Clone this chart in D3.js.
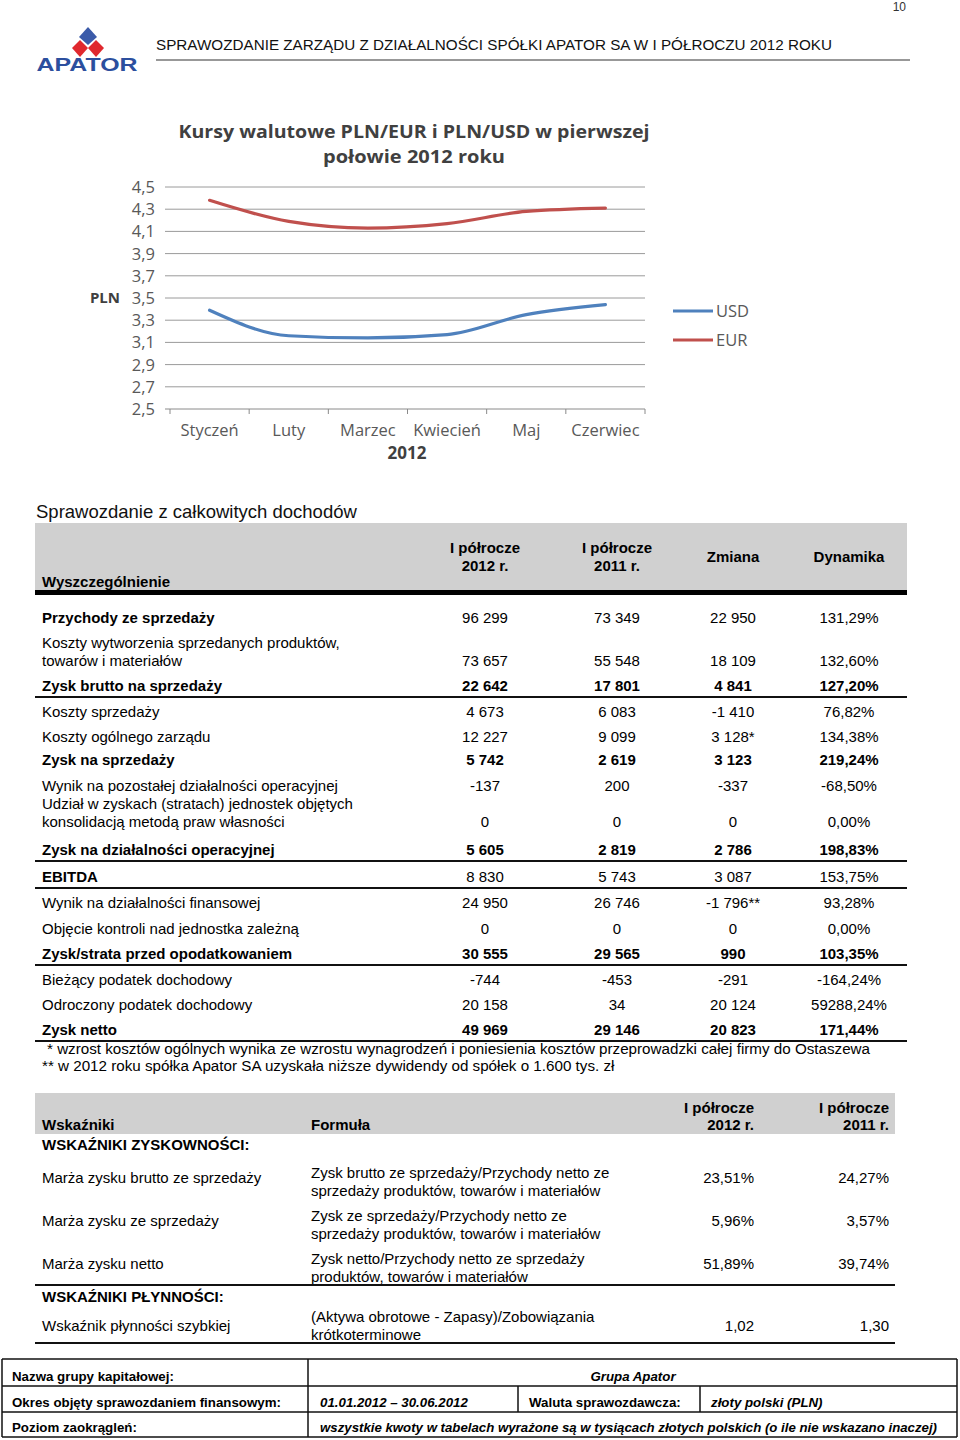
<!DOCTYPE html>
<html><head><meta charset="utf-8">
<script src="https://cdn.jsdelivr.net/npm/d3@7/dist/d3.min.js"></script>
<style>body{margin:0;background:#fff}svg{display:block}</style>
</head><body>
<svg id="page" width="960" height="1440"></svg>
<script>
// ---------- DATA ----------
const months = ["Styczeń","Luty","Marzec","Kwiecień","Maj","Czerwiec"];
const usd = [3.39, 3.16, 3.14, 3.17, 3.35, 3.44];
const eur = [4.38, 4.19, 4.13, 4.17, 4.28, 4.31];
const yTicks = [2.5,2.7,2.9,3.1,3.3,3.5,3.7,3.9,4.1,4.3,4.5];

const t1Labels = [
  ["Przychody ze sprzedaży"],
  ["Koszty wytworzenia sprzedanych produktów,","towarów i materiałów"],
  ["Zysk brutto na sprzedaży"],
  ["Koszty sprzedaży"],
  ["Koszty ogólnego zarządu"],
  ["Zysk na sprzedaży"],
  ["Wynik na pozostałej działalności operacyjnej"],
  ["Udział w zyskach (stratach) jednostek objętych","konsolidacją metodą praw własności"],
  ["Zysk na działalności operacyjnej"],
  ["EBITDA"],
  ["Wynik na działalności  finansowej"],
  ["Objęcie kontroli nad jednostka zależną"],
  ["Zysk/strata przed opodatkowaniem"],
  ["Bieżący podatek dochodowy"],
  ["Odroczony podatek dochodowy"],
  ["Zysk netto"]
];
const t1H2012 = ["96 299","73 657","22 642","4 673","12 227","5 742","-137","0","5 605","8 830","24 950","0","30 555","-744","20 158","49 969"];
const t1H2011 = ["73 349","55 548","17 801","6 083","9 099","2 619","200","0","2 819","5 743","26 746","0","29 565","-453","34","29 146"];
const t1Change = ["22 950","18 109","4 841","-1 410","3 128*","3 123","-337","0","2 786","3 087","-1 796**","0","990","-291","20 124","20 823"];
const t1Dyn = ["131,29%","132,60%","127,20%","76,82%","134,38%","219,24%","-68,50%","0,00%","198,83%","153,75%","93,28%","0,00%","103,35%","-164,24%","59288,24%","171,44%"];
const t1BoldLabel = [1,0,1,0,0,1,0,0,1,1,0,0,1,0,0,1];
const t1BoldValues = [0,0,1,0,0,1,0,0,1,0,0,0,1,0,0,1];
const t1RuleAfter = [0,0,1,0,0,0,0,0,1,1,0,0,1,0,0,1];
const footnotes = ["* wzrost kosztów ogólnych wynika ze wzrostu wynagrodzeń i poniesienia kosztów przeprowadzki całej firmy do Ostaszewa",
                   "** w 2012 roku spółka Apator SA uzyskała niższe dywidendy od spółek o 1.600 tys. zł"];

const t2Groups = ["WSKAŹNIKI ZYSKOWNOŚCI:","WSKAŹNIKI PŁYNNOŚCI:"];
const t2Names = ["Marża zysku brutto ze sprzedaży","Marża zysku ze sprzedaży","Marża zysku netto","Wskaźnik płynności szybkiej"];
const t2Formulas = [
  ["Zysk brutto ze sprzedaży/Przychody netto ze","sprzedaży produktów, towarów i materiałów"],
  ["Zysk ze sprzedaży/Przychody netto ze","sprzedaży produktów, towarów i materiałów"],
  ["Zysk netto/Przychody netto ze sprzedaży","produktów, towarów i materiałów"],
  ["(Aktywa obrotowe - Zapasy)/Zobowiązania","krótkoterminowe"]
];
const t2V2012 = ["23,51%","5,96%","51,89%","1,02"];
const t2V2011 = ["24,27%","3,57%","39,74%","1,30"];

// ---------- LAYOUT ----------
const svg = d3.select("#page");
const SANS = "'Liberation Sans', Arial, sans-serif";
const CH = "'Open Sans', sans-serif";

// header
svg.append("text").attr("x",906).attr("y",11).attr("text-anchor","end").attr("font-family",SANS).attr("font-size",12).attr("fill","#333").text("10");
const logo = svg.append("g");
logo.append("polygon").attr("points","88,27 97,37 88,45 79,37").attr("fill","#3b5ba9");
logo.append("polygon").attr("points","80,40 88,48 80,57 72,48").attr("fill","#e0282e");
logo.append("polygon").attr("points","96,40 104,48 96,57 88,48").attr("fill","#e0282e");
logo.append("text").attr("x",87).attr("y",71).attr("text-anchor","middle").attr("font-family",SANS).attr("font-weight","bold").attr("font-size",19).attr("fill","#2c4f9e").attr("textLength",101).attr("lengthAdjust","spacingAndGlyphs").text("APATOR");
svg.append("text").attr("x",156).attr("y",50).attr("font-family",SANS).attr("font-size",15).attr("fill","#111").attr("textLength",676).attr("lengthAdjust","spacingAndGlyphs").text("SPRAWOZDANIE ZARZĄDU Z DZIAŁALNOŚCI SPÓŁKI APATOR SA W I PÓŁROCZU 2012 ROKU");
svg.append("line").attr("x1",156).attr("x2",910).attr("y1",60).attr("y2",60).attr("stroke","#333").attr("stroke-width",1.2);

// ---------- LINE CHART ----------
const x = d3.scaleBand().domain(months).range([170,645]).padding(0);
const y = d3.scaleLinear().domain([2.5,4.5]).range([409,187]);
const chart = svg.append("g");
chart.append("text").attr("x",414).attr("y",138).attr("text-anchor","middle").attr("font-family",CH).attr("font-weight","bold").attr("font-size",17.5).attr("fill","#404040").attr("textLength",471).attr("lengthAdjust","spacingAndGlyphs").text("Kursy walutowe PLN/EUR i PLN/USD w pierwszej");
chart.append("text").attr("x",414).attr("y",163).attr("text-anchor","middle").attr("font-family",CH).attr("font-weight","bold").attr("font-size",17.5).attr("fill","#404040").attr("textLength",182).attr("lengthAdjust","spacingAndGlyphs").text("połowie 2012 roku");

chart.selectAll("line.grid").data(yTicks).join("line").attr("class","grid")
  .attr("x1",165).attr("x2",645).attr("y1",d=>y(d)).attr("y2",d=>y(d))
  .attr("stroke",d=>d===2.5?"#8a8a8a":"#9a9a9a").attr("stroke-width",1);
chart.selectAll("text.yt").data(yTicks).join("text").attr("class","yt")
  .attr("x",155).attr("y",d=>y(d)+6).attr("text-anchor","end").attr("font-family",CH).attr("font-size",16.5).attr("fill","#595959")
  .text(d=>d3.format(".1f")(d).replace(".",","));
const bounds = months.map(m=>x(m)).concat([645]);
chart.selectAll("line.xt").data(bounds).join("line").attr("class","xt")
  .attr("x1",d=>d).attr("x2",d=>d).attr("y1",409).attr("y2",414).attr("stroke","#8a8a8a");
chart.selectAll("text.xl").data(months).join("text").attr("class","xl")
  .attr("x",d=>x(d)+x.bandwidth()/2).attr("y",436).attr("text-anchor","middle").attr("font-family",CH).attr("font-size",16.5).attr("fill","#595959").text(d=>d);
chart.append("text").attr("x",407).attr("y",459).attr("text-anchor","middle").attr("font-family",CH).attr("font-weight","bold").attr("font-size",17).attr("fill","#404040").text("2012");
chart.append("text").attr("x",105).attr("y",303).attr("text-anchor","middle").attr("font-family",CH).attr("font-weight","bold").attr("font-size",15).attr("fill","#404040").text("PLN");

const line = d3.line().x((d,i)=>x(months[i])+x.bandwidth()/2).y(d=>y(d)).curve(d3.curveMonotoneX);
const series = [{name:"EUR",vals:eur,color:"#c0504d"},{name:"USD",vals:usd,color:"#4f81bd"}];
chart.selectAll("path.s").data(series).join("path").attr("class","s")
  .attr("d",d=>line(d.vals)).attr("fill","none").attr("stroke",d=>d.color).attr("stroke-width",3.2).attr("stroke-linecap","round");
const legend = [{name:"USD",color:"#4f81bd"},{name:"EUR",color:"#c0504d"}];
const lg = chart.selectAll("g.lg").data(legend).join("g").attr("class","lg").attr("transform",(d,i)=>`translate(673,${311+i*29})`);
lg.append("line").attr("x1",0).attr("x2",40).attr("stroke",d=>d.color).attr("stroke-width",3.2);
lg.append("text").attr("x",43).attr("y",6).attr("font-family",CH).attr("font-size",16.5).attr("fill","#595959").text(d=>d.name);

// ---------- TABLE 1 ----------
const t1 = svg.append("g").attr("font-family",SANS).attr("font-size",15).attr("fill","#000");
t1.append("text").attr("x",36).attr("y",518).attr("font-size",18.5).attr("fill","#111").text("Sprawozdanie z całkowitych dochodów");
t1.append("rect").attr("x",35).attr("y",523).attr("width",872).attr("height",68).attr("fill","#d0d0d0");
t1.append("rect").attr("x",35).attr("y",590).attr("width",872).attr("height",5).attr("fill","#000");
const colX = [485,617,733,849];
t1.append("text").attr("x",42).attr("y",587).attr("font-weight","bold").text("Wyszczególnienie");
[["I półrocze","2012 r."],["I półrocze","2011 r."]].forEach((h,i)=>{
  h.forEach((s,j)=>t1.append("text").attr("x",colX[i]).attr("y",553+j*18).attr("text-anchor","middle").attr("font-weight","bold").text(s));
});
t1.append("text").attr("x",colX[2]).attr("y",562).attr("text-anchor","middle").attr("font-weight","bold").text("Zmiana");
t1.append("text").attr("x",colX[3]).attr("y",562).attr("text-anchor","middle").attr("font-weight","bold").text("Dynamika");

// row baselines (value line); multi-line labels start one line above
const t1Base = [623,666,691,717,742,765,791,827,855,882,908,934,959,985,1010,1035];
t1Labels.forEach((lab,i)=>{
  const n = lab.length;
  const yStart = t1Base[i]-(n-1)*18;
  lab.forEach((s,j)=>t1.append("text").attr("x",42).attr("y",yStart+j*18).attr("font-weight",t1BoldLabel[i]?"bold":"normal").text(s));
  [t1H2012,t1H2011,t1Change,t1Dyn].forEach((arr,c)=>{
    t1.append("text").attr("x",colX[c]).attr("y",t1Base[i]).attr("text-anchor","middle").attr("font-weight",t1BoldValues[i]?"bold":"normal").text(arr[i]);
  });
  if(t1RuleAfter[i]) t1.append("rect").attr("x",35).attr("y",t1Base[i]+5).attr("width",872).attr("height",2).attr("fill","#111");
});
footnotes.forEach((s,i)=>t1.append("text").attr("x",i===0?47:42).attr("y",1054+i*17).attr("font-size",15.2).text(s));

// ---------- TABLE 2 ----------
const t2 = svg.append("g").attr("font-family",SANS).attr("font-size",15).attr("fill","#000");
t2.append("rect").attr("x",35).attr("y",1093).attr("width",860).attr("height",41).attr("fill","#d0d0d0");
t2.append("text").attr("x",42).attr("y",1130).attr("font-weight","bold").text("Wskaźniki");
t2.append("text").attr("x",311).attr("y",1130).attr("font-weight","bold").text("Formuła");
const c2 = [754,889];
[["I półrocze","2012 r."],["I półrocze","2011 r."]].forEach((h,i)=>h.forEach((s,j)=>
  t2.append("text").attr("x",c2[i]).attr("y",1113+j*17).attr("text-anchor","end").attr("font-weight","bold").text(s)));
t2.append("text").attr("x",42).attr("y",1150).attr("font-weight","bold").text(t2Groups[0]);
t2.append("text").attr("x",42).attr("y",1302).attr("font-weight","bold").text(t2Groups[1]);
const t2Base = [1183,1226,1269,1331];
const t2FormTop = [1178,1221,1264,1322];
t2Names.forEach((nm,i)=>{
  t2.append("text").attr("x",42).attr("y",t2Base[i]).text(nm);
  t2Formulas[i].forEach((s,j)=>t2.append("text").attr("x",311).attr("y",t2FormTop[i]+j*18).text(s));
  t2.append("text").attr("x",c2[0]).attr("y",t2Base[i]).attr("text-anchor","end").text(t2V2012[i]);
  t2.append("text").attr("x",c2[1]).attr("y",t2Base[i]).attr("text-anchor","end").text(t2V2011[i]);
});
t2.append("rect").attr("x",35).attr("y",1284).attr("width",860).attr("height",2).attr("fill","#111");
t2.append("rect").attr("x",35).attr("y",1342).attr("width",860).attr("height",2).attr("fill","#111");

// ---------- FOOTER BOX ----------
const f = svg.append("g").attr("font-family",SANS).attr("font-size",13.3).attr("font-weight","bold").attr("fill","#000");
const fl = (x1,y1,x2,y2)=>f.append("line").attr("x1",x1).attr("y1",y1).attr("x2",x2).attr("y2",y2).attr("stroke","#111").attr("stroke-width",1.5);
fl(2,1359,957,1359); fl(2,1386,957,1386); fl(2,1412,957,1412); fl(2,1437,957,1437);
fl(2,1359,2,1437); fl(957,1359,957,1437); fl(308,1359,308,1437); fl(518,1386,518,1412); fl(700,1386,700,1412);
f.append("text").attr("x",12).attr("y",1381).text("Nazwa grupy kapitałowej:");
f.append("text").attr("x",633).attr("y",1381).attr("text-anchor","middle").attr("font-style","italic").text("Grupa Apator");
f.append("text").attr("x",12).attr("y",1407).text("Okres objęty sprawozdaniem finansowym:");
f.append("text").attr("x",320).attr("y",1407).attr("font-style","italic").text("01.01.2012 – 30.06.2012");
f.append("text").attr("x",529).attr("y",1407).text("Waluta sprawozdawcza:");
f.append("text").attr("x",711).attr("y",1407).attr("font-style","italic").text("złoty polski (PLN)");
f.append("text").attr("x",12).attr("y",1432).text("Poziom zaokrągleń:");
f.append("text").attr("x",320).attr("y",1432).attr("font-style","italic").attr("textLength",617).attr("lengthAdjust","spacingAndGlyphs").text("wszystkie kwoty w tabelach wyrażone są w tysiącach złotych polskich (o ile nie wskazano inaczej)");
</script>
</body></html>
